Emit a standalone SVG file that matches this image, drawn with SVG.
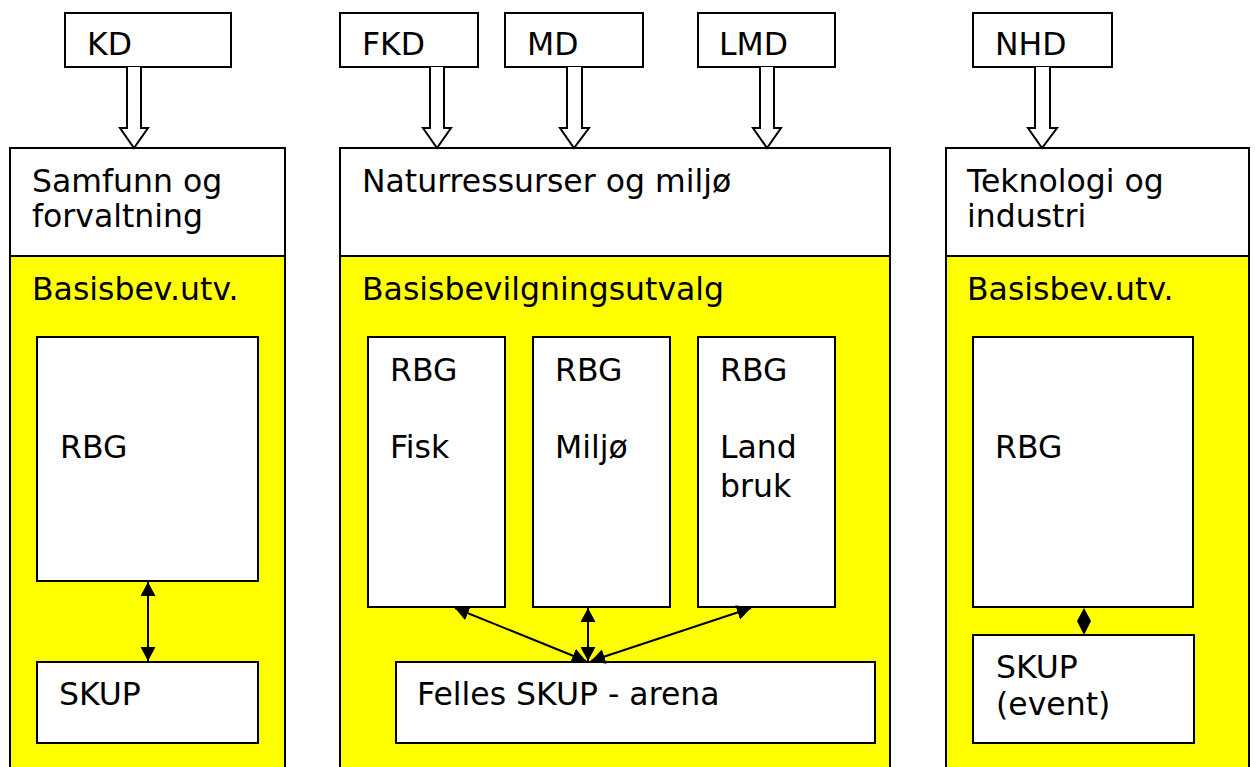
<svg xmlns="http://www.w3.org/2000/svg" width="1255" height="767" viewBox="0 0 1255 767">
<style>
.b{fill:#fff;stroke:#000;stroke-width:2}
.y{fill:#ffff00;stroke:#000;stroke-width:2}
.t{font-family:"DejaVu Sans",Verdana,sans-serif;font-size:31.5px;fill:#000}
.ha{fill:#fff;stroke:#000;stroke-width:2;stroke-linejoin:miter}
.c{stroke:#000;stroke-width:2;fill:none;marker-start:url(#ah);marker-end:url(#ah)}
</style>
<defs>
<marker id="ah" viewBox="0 0 10 10" refX="10" refY="5" markerWidth="14" markerHeight="15" markerUnits="userSpaceOnUse" orient="auto-start-reverse" preserveAspectRatio="none">
<path d="M0,0 L10,5 L0,10 z" fill="#000"/>
</marker>
</defs>
<rect width="1255" height="767" fill="#fff"/>

<g id="col-samfunn">
<rect class="y" x="10" y="148" width="275" height="640"/>
<rect class="b" x="10" y="148" width="275" height="108"/>
<text class="t" x="32" y="192">Samfunn og</text>
<text class="t" x="32" y="227">forvaltning</text>
<text class="t" x="32" y="300">Basisbev.utv.</text>
</g>
<g id="col-natur">
<rect class="y" x="340" y="148" width="550" height="640"/>
<rect class="b" x="340" y="148" width="550" height="108"/>
<text class="t" x="362" y="192">Naturressurser og miljø</text>
<text class="t" x="362" y="300">Basisbevilgningsutvalg</text>
</g>
<g id="col-teknologi">
<rect class="y" x="946" y="148" width="303" height="640"/>
<rect class="b" x="946" y="148" width="303" height="108"/>
<text class="t" x="967" y="192">Teknologi og</text>
<text class="t" x="967" y="227">industri</text>
<text class="t" x="967" y="300">Basisbev.utv.</text>
</g>

<g id="kd"><rect class="b" x="65" y="13" width="166" height="54"/><text class="t" x="87" y="55">KD</text></g>
<g id="fkd"><rect class="b" x="340" y="13" width="138" height="54"/><text class="t" x="362" y="55">FKD</text></g>
<g id="md"><rect class="b" x="505" y="13" width="138" height="54"/><text class="t" x="527" y="55">MD</text></g>
<g id="lmd"><rect class="b" x="698" y="13" width="137" height="54"/><text class="t" x="719" y="55">LMD</text></g>
<g id="nhd"><rect class="b" x="973" y="13" width="139" height="54"/><text class="t" x="995" y="55">NHD</text></g>

<g id="rbg-samfunn"><rect class="b" x="37" y="337" width="221" height="244"/><text class="t" x="60" y="458">RBG</text></g>
<g id="skup-samfunn"><rect class="b" x="37" y="662" width="221" height="81"/><text class="t" x="59" y="705">SKUP</text></g>

<g id="rbg-fisk"><rect class="b" x="368" y="337" width="137" height="270"/><text class="t" x="390" y="381">RBG</text><text class="t" x="390" y="458">Fisk</text></g>
<g id="rbg-miljo"><rect class="b" x="533" y="337" width="137" height="270"/><text class="t" x="555" y="381">RBG</text><text class="t" x="555" y="458">Miljø</text></g>
<g id="rbg-landbruk"><rect class="b" x="698" y="337" width="137" height="270"/><text class="t" x="720" y="381">RBG</text><text class="t" x="720" y="458">Land</text><text class="t" x="720" y="497">bruk</text></g>
<g id="felles-skup"><rect class="b" x="396" y="662" width="479" height="81"/><text class="t" x="417" y="705">Felles SKUP - arena</text></g>

<g id="rbg-teknologi"><rect class="b" x="973" y="337" width="220" height="270"/><text class="t" x="995" y="458">RBG</text></g>
<g id="skup-event"><rect class="b" x="973" y="635" width="221" height="108"/><text class="t" x="996" y="678">SKUP</text><text class="t" x="996" y="715">(event)</text></g>

<g id="connectors">
<path class="ha" d="M127,67 V128 H120 L134,148 L148,128 H141 V67"/>
<path class="ha" d="M430,67 V128 H423 L437,148 L451,128 H444 V67"/>
<path class="ha" d="M567,67 V128 H560 L574,148 L589,128 H582 V67"/>
<path class="ha" d="M760,67 V128 H753 L767,148 L781,128 H774 V67"/>
<path class="ha" d="M1035,67 V128 H1028 L1042,148 L1057,128 H1050 V67"/>
<line class="c" x1="148" y1="582" x2="148" y2="661"/>
<line class="c" x1="455" y1="608" x2="586" y2="661"/>
<line class="c" x1="588" y1="608" x2="588" y2="661"/>
<line class="c" x1="751" y1="608" x2="591" y2="661"/>
<path d="M1084,608 L1091,621 L1084,635 L1077,621 z" fill="#000"/>
</g>
</svg>
